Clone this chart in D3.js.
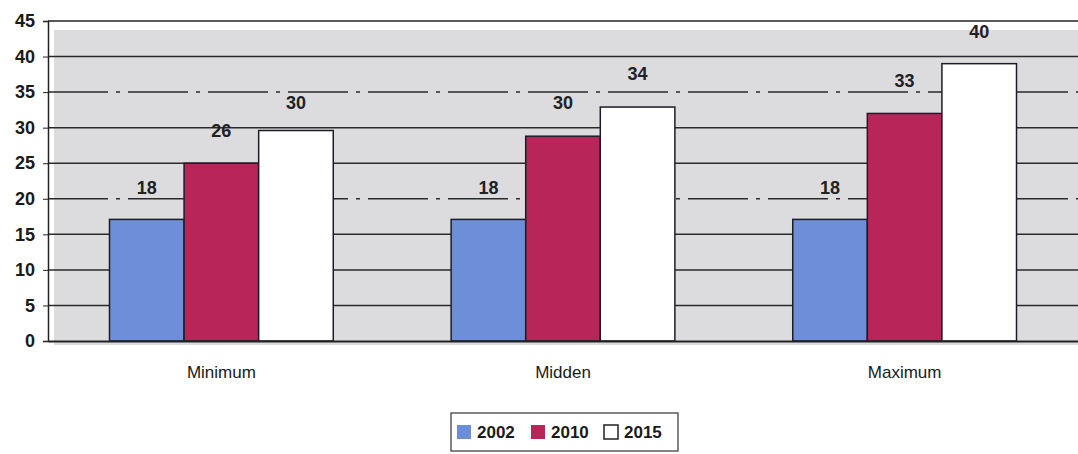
<!DOCTYPE html>
<html>
<head>
<meta charset="utf-8">
<script src="https://cdn.jsdelivr.net/npm/d3@7"></script>
<style>
  body { margin: 0; background: #fff; }
  text { font-family: "Liberation Sans", Arial, sans-serif; }
</style>
</head>
<body>
<div id="chart"></div>
<script>
// data
var categories = ["Minimum", "Midden", "Maximum"];
var series = ["2002", "2010", "2015"];
var values2002 = [17.1, 17.1, 17.1];
var values2010 = [25, 28.8, 32];
var values2015 = [29.6, 32.9, 39];
// the printed labels don't quite match the bar heights in the original
var labels2002 = [18, 18, 18];
var labels2010 = [26, 30, 33];
var labels2015 = [30, 34, 40];
var yTicks = [0, 5, 10, 15, 20, 25, 30, 35, 40, 45];

var colors = { "2002": "#6d8ed8", "2010": "#b82559", "2015": "#ffffff" };
var valuesBySeries = { "2002": values2002, "2010": values2010, "2015": values2015 };
var labelsBySeries = { "2002": labels2002, "2010": labels2010, "2015": labels2015 };

var width = 1078, height = 454;
var plotLeft = 48, plotRight = 1078, plotTop = 21, plotBottom = 341;

var svg = d3.select("#chart").append("svg")
  .attr("width", width)
  .attr("height", height);

var x = d3.scaleBand().domain(categories).range([plotLeft, plotRight]).paddingInner(0.345).paddingOuter(0.18);
var x1 = d3.scaleBand().domain(series).range([0, x.bandwidth()]);
var y = d3.scaleLinear().domain([0, 45]).range([plotBottom, plotTop]);

// grey plot background
svg.append("rect")
  .attr("x", plotLeft + 6).attr("y", plotTop + 9)
  .attr("width", plotRight - plotLeft - 6).attr("height", plotBottom - plotTop - 5)
  .attr("fill", "#dcdcdf");

// gridlines
svg.selectAll(".grid")
  .data(yTicks.filter(function (d) { return d > 0 && d < 45; }))
  .enter().append("line")
  .attr("x1", plotLeft).attr("x2", plotRight)
  .attr("y1", function (d) { return y(d); })
  .attr("y2", function (d) { return y(d); })
  .attr("stroke", "#2a2a2a")
  .attr("stroke-width", 1.5)
  .attr("stroke-dasharray", function (d) { return (d == 20 || d == 35) ? "60,8,4,8" : null; });

// frame top line
svg.append("line")
  .attr("x1", plotLeft).attr("x2", plotRight).attr("y1", plotTop).attr("y2", plotTop)
  .attr("stroke", "#222").attr("stroke-width", 1.5);

// bars
var rows = [];
categories.forEach(function (c, i) {
  series.forEach(function (s) {
    rows.push({ cat: c, key: s, value: valuesBySeries[s][i], label: labelsBySeries[s][i] });
  });
});

svg.selectAll(".bar")
  .data(rows)
  .enter().append("rect")
  .attr("x", function (d) { return x(d.cat) + x1(d.key); })
  .attr("y", function (d) { return y(d.value); })
  .attr("width", x1.bandwidth())
  .attr("height", function (d) { return y(0) - y(d.value); })
  .attr("fill", function (d) { return colors[d.key]; })
  .attr("stroke", "#1d1d2a")
  .attr("stroke-width", 1.5);

// value labels
svg.selectAll(".lbl")
  .data(rows)
  .enter().append("text")
  .attr("x", function (d) { return x(d.cat) + x1(d.key) + x1.bandwidth() / 2; })
  .attr("y", function (d) { return y(d.label) - 19; })
  .attr("text-anchor", "middle")
  .style("font-size", "18px")
  .style("font-weight", "bold")
  .attr("fill", "#222")
  .text(function (d) { return d.label; });

// y axis
var yAxis = d3.axisLeft(y).tickValues(yTicks).tickSize(5).tickPadding(8);
var gy = svg.append("g")
  .attr("transform", "translate(" + plotLeft + ",0)")
  .call(yAxis);
gy.select(".domain").attr("stroke", "#222").attr("stroke-width", 1.5);
gy.selectAll(".tick line").attr("stroke", "#222");
gy.selectAll("text")
  .style("font-size", "18px")
  .style("font-weight", "bold")
  .attr("fill", "#1a1a1a");

// x axis
var xAxis = d3.axisBottom(x).tickSize(0).tickPadding(25);
var gx = svg.append("g")
  .attr("transform", "translate(0," + plotBottom + ")")
  .call(xAxis);
gx.select(".domain").attr("stroke", "#222").attr("stroke-width", 2);
gx.selectAll("text")
  .style("font-size", "17px")
  .attr("fill", "#1a1a1a");

// legend
var legend = svg.append("g").attr("transform", "translate(451,413)");
legend.append("rect")
  .attr("width", 227).attr("height", 38)
  .attr("fill", "#fff").attr("stroke", "#333").attr("stroke-width", 1.2);

var legendX = [6, 80, 153];
var item = legend.selectAll(".item")
  .data(series)
  .enter().append("g")
  .attr("transform", function (d, i) { return "translate(" + legendX[i] + ",12)"; });

item.append("rect")
  .attr("width", 14).attr("height", 14)
  .attr("fill", function (d) { return colors[d]; })
  .attr("stroke", function (d) { return d == "2015" ? "#222" : "none"; })
  .attr("stroke-width", 1.5);

item.append("text")
  .attr("x", 20).attr("y", 13)
  .style("font-size", "17px")
  .style("font-weight", "bold")
  .attr("fill", "#1a1a1a")
  .text(function (d) { return d; });
</script>
</body>
</html>
